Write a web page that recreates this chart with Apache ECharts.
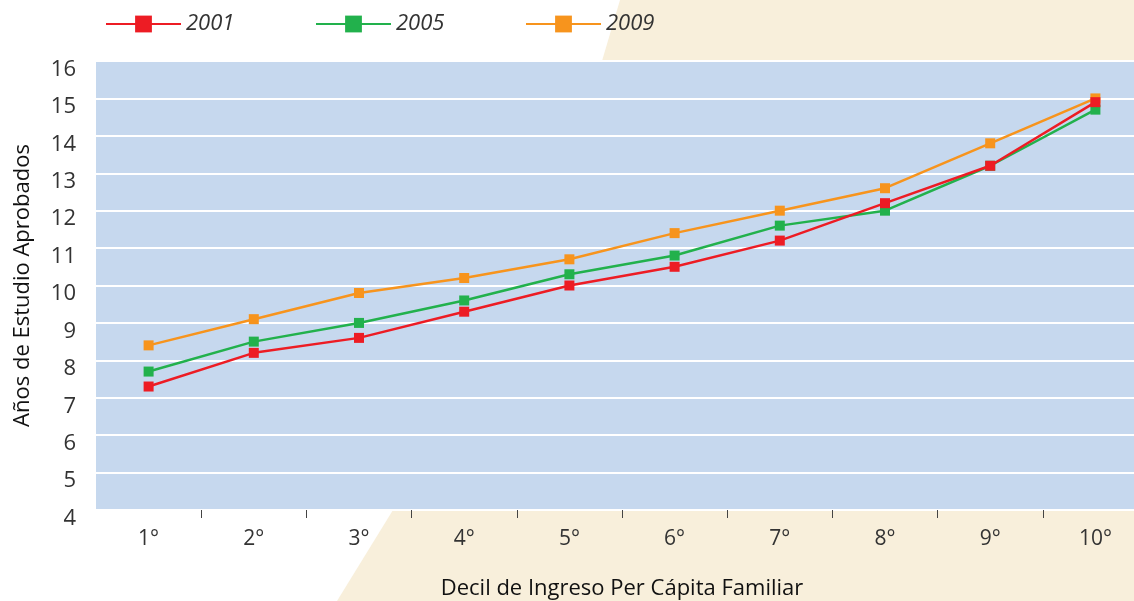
<!DOCTYPE html>
<html>
<head>
<meta charset="utf-8">
<title>Años de Estudio Aprobados</title>
<script src="https://cdn.jsdelivr.net/npm/echarts@6/dist/echarts.min.js"></script>
<style>
  html,body{margin:0;padding:0;background:#fff;}
  #chart{width:1134px;height:601px;}
</style>
</head>
<body>
<div id="chart"></div>
<script>
var deciles = ['1°','2°','3°','4°','5°','6°','7°','8°','9°','10°'];
var years = ['2001','2005','2009'];
var v2001 = [7.3, 8.2, 8.6, 9.3, 10.0, 10.5, 11.2, 12.2, 13.2, 14.9];
var v2005 = [7.7, 8.5, 9.0, 9.6, 10.3, 10.8, 11.6, 12.0, 13.2, 14.7];
var v2009 = [8.4, 9.1, 9.8, 10.2, 10.7, 11.4, 12.0, 12.6, 13.8, 15.0];
var colores = {'2001':'#ED1C24','2005':'#22B14C','2009':'#F7941D'};

var font = '"Open Sans", "Noto Sans", sans-serif';
var chart = echarts.init(document.getElementById('chart'));

function serie(name, data, z){
  return {
    name: name, type: 'line', data: data, z: z,
    symbol: 'rect', symbolSize: 10,
    lineStyle: {color: colores[name], width: 2.5},
    itemStyle: {color: colores[name]},
    emphasis: {disabled: true}
  };
}
function leyenda(name, left){
  return {
    data: [name], left: left, top: 8, itemGap: 0,
    itemWidth: 75, itemHeight: 21,
    textStyle: {fontFamily: font, fontSize: 22, fontStyle: 'italic', color: '#333'}
  };
}

chart.setOption({
  animation: false,
  backgroundColor: '#fff',
  graphic: [
    {type: 'polygon', z: -10, shape: {points: [[620,0],[1134,0],[1134,61],[602,61]]}, style: {fill: '#F8EFDB'}},
    {type: 'polygon', z: -10, shape: {points: [[393,510],[1134,510],[1134,601],[337,601]]}, style: {fill: '#F8EFDB'}}
  ],
  legend: [leyenda('2001', 100), leyenda('2005', 310), leyenda('2009', 520)],
  grid: {left: 96, width: 1052, top: 61, height: 449, outerBoundsMode: 'none', containLabel: false,
         show: true, backgroundColor: '#C6D8EE', borderWidth: 0},
  xAxis: {
    type: 'category', data: deciles, boundaryGap: true,
    name: 'Decil de Ingreso Per Cápita Familiar', nameLocation: 'middle', nameGap: 68,
    nameTextStyle: {fontFamily: font, fontSize: 22, color: '#111'},
    axisLine: {show: false},
    axisTick: {show: true, length: 8, lineStyle: {color: '#444', width: 1}, interval: function(i){ return i !== 0; }},
    axisLabel: {fontFamily: font, fontSize: 21, color: '#333', margin: 19}
  },
  yAxis: {
    type: 'value', min: 4, max: 16, interval: 1,
    name: 'Años de Estudio Aprobados', nameLocation: 'middle', nameGap: 62,
    nameTextStyle: {fontFamily: font, fontSize: 22, color: '#111'},
    axisLine: {show: false}, axisTick: {show: false},
    axisLabel: {fontFamily: font, fontSize: 22, color: '#333', margin: 20, verticalAlign: 'top', lineHeight: 17},
    splitLine: {lineStyle: {color: '#fff', width: 2}}
  },
  series: [serie('2009', v2009, 2), serie('2005', v2005, 3), serie('2001', v2001, 4)]
});
</script>
</body>
</html>
